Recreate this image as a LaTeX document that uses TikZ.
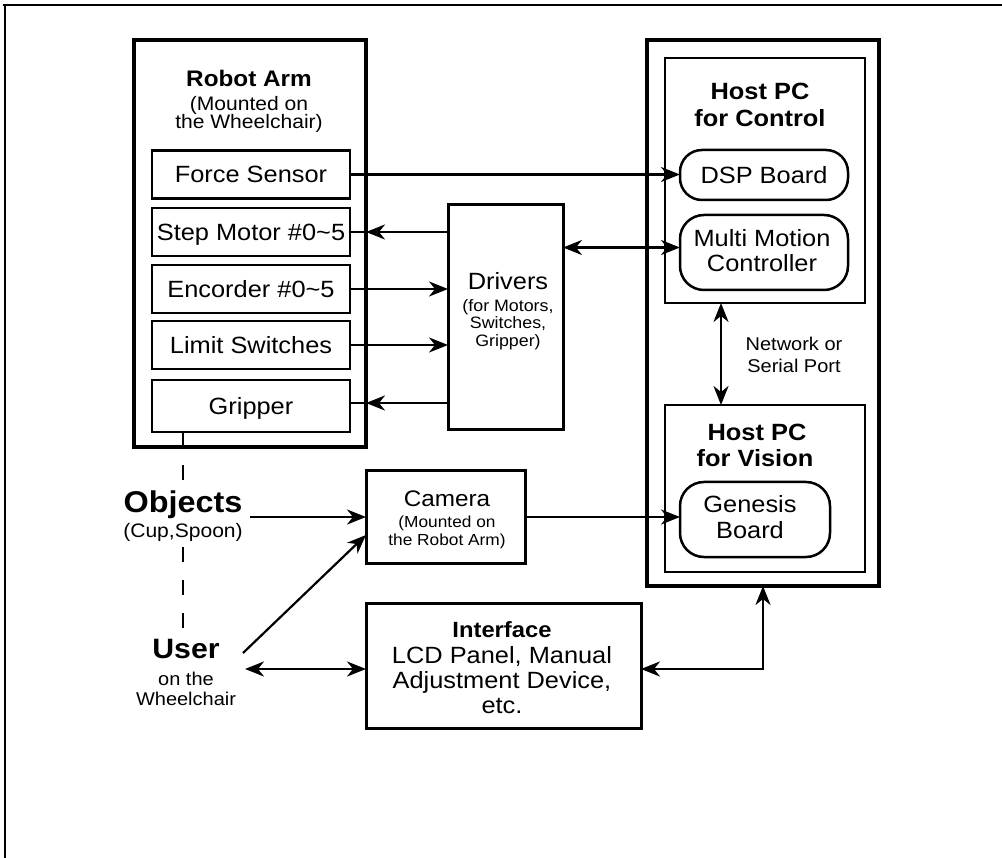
\documentclass[tikz,border=0pt]{standalone}
\usepackage{fontspec}
\setmainfont{Liberation Sans}[FakeStretch=1.08]
\usetikzlibrary{arrows.meta}
\begin{document}
\begin{tikzpicture}[x=1pt,y=-1pt,
  every node/.style={inner sep=0pt, outer sep=0pt},
  obox/.style={draw, line width=3.4pt, rectangle},
  ibox/.style={draw, line width=2.6pt, rectangle},
  sbox/.style={draw, line width=2.5pt, rectangle, minimum width=198pt, minimum height=48pt,
               text height=17pt, text depth=0pt, font=\fontsize{23.5}{26}\selectfont},
  rbox/.style={draw, line width=2.5pt, rectangle, rounded corners=24pt},
  conn/.style={line width=2.2pt},
  arr/.style={conn, -{Stealth[length=19pt,width=15pt,inset=6pt]}},
  darr/.style={conn, {Stealth[length=19pt,width=15pt,inset=6pt]}-{Stealth[length=19pt,width=15pt,inset=6pt]}},
  dashline/.style={line width=2.2pt, dash pattern=on 15pt off 18pt},
  lbl/.style={anchor=base},
  ftxt/.style={lbl, font=\fontsize{23.5}{26}\selectfont},
  fbold/.style={lbl, font=\fontsize{23.5}{26}\selectfont\bfseries},
  fsub/.style={lbl, font=\fontsize{19.5}{21}\selectfont},
  fsmall/.style={lbl, font=\fontsize{16.5}{18}\selectfont}
]
\useasboundingbox (0,0) rectangle (1002,858);
\fill[white] (0,0) rectangle (1002,858);
% outer frame (top and left only)
\draw[line width=2.6pt] (3,5) -- (1002,5);
\draw[line width=2.6pt] (5,5) -- (5,858);

% ---------------- Robot arm ----------------
\node[obox, minimum width=232pt, minimum height=407pt] (arm) at (250,243.5) {};
\node[lbl, font=\fontsize{22.5}{25}\selectfont\bfseries] (armt1) at (249,87) {Robot Arm};
\node[fsub] (armt2) at (249,111) {(Mounted on};
\node[fsub] (armt3) at (249,129) {the Wheelchair)};
\node[sbox] (force) at (251,174.5) {Force Sensor};
\node[sbox] (step)  at (251,232) {Step Motor \#0\textasciitilde5};
\node[sbox] (enc)   at (251,289) {Encorder \#0\textasciitilde5};
\node[sbox] (limit) at (251,345) {Limit Switches};
\node[sbox, minimum height=52pt] (grip) at (251,406) {Gripper};

% ---------------- Drivers ----------------
\node[obox, line width=3pt, minimum width=115pt, minimum height=225pt] (drivers) at (505.5,317.5) {};
\node[ftxt] (drv1) at (508,290) {Drivers};
\node[fsmall] (drv2) at (508,312) {(for Motors,};
\node[fsmall] (drv3) at (508,329) {Switches,};
\node[fsmall] (drv4) at (508,347) {Gripper)};

% ---------------- Host PCs ----------------
\node[obox, minimum width=232pt, minimum height=546pt] (pcs) at (763,313) {};
\node[ibox, minimum width=200pt, minimum height=245pt] (control) at (765,180.5) {};
\node[fbold] (ctl1) at (760,100) {Host PC};
\node[fbold] (ctl2) at (760,127) {for Control};
\node[rbox, rounded corners=22pt, minimum width=168pt, minimum height=50pt,
      text height=17pt, text depth=0pt, font=\fontsize{23.5}{26}\selectfont] (dsp) at (764,175) {DSP Board};
\node[rbox, minimum width=168pt, minimum height=75pt] (mmc) at (764,252.5) {};
\node[ftxt] (mmc1) at (762,247) {Multi Motion};
\node[ftxt] (mmc2) at (762,272) {Controller};

\node[ibox, minimum width=200pt, minimum height=167pt] (vision) at (765,488.5) {};
\node[fbold] (vis1) at (757,441) {Host PC};
\node[fbold] (vis2) at (755,467) {for Vision};
\node[rbox, minimum width=150pt, minimum height=75pt] (genesis) at (755,519.5) {};
\node[ftxt] (gen1) at (750,513) {Genesis};
\node[ftxt] (gen2) at (750,539) {Board};

\node[lbl, font=\fontsize{18.5}{20}\selectfont] (net1) at (794,351) {Network or};
\node[lbl, font=\fontsize{18.5}{20}\selectfont] (net2) at (794,373) {Serial Port};

% ---------------- Camera ----------------
\node[obox, line width=3pt, minimum width=159pt, minimum height=93pt] (camera) at (445.5,517) {};
\node[lbl, font=\fontsize{22.5}{25}\selectfont] (cam1) at (447,507) {Camera};
\node[lbl, font=\fontsize{16}{18}\selectfont] (cam2) at (447,527) {(Mounted on};
\node[lbl, font=\fontsize{16}{18}\selectfont] (cam3) at (447,545) {the Robot Arm)};

% ---------------- Interface ----------------
\node[obox, line width=3pt, minimum width=275pt, minimum height=125pt] (interface) at (503.5,665.5) {};
\node[lbl, font=\fontsize{22}{25}\selectfont\bfseries] (if1) at (502,637) {Interface};
\node[ftxt] (if2) at (502,663) {LCD Panel, Manual};
\node[ftxt] (if3) at (502,688) {Adjustment Device,};
\node[ftxt] (if4) at (502,713) {etc.};

% ---------------- Objects / User ----------------
\node[lbl, font=\fontsize{30}{32}\selectfont\bfseries] (objects) at (183,512) {Objects};
\node[lbl, font=\fontsize{19.5}{21}\selectfont] (objsub) at (183,537) {(Cup,Spoon)};
\node[lbl, font=\fontsize{28}{30}\selectfont\bfseries] (user) at (186,658) {User};
\node[lbl, font=\fontsize{18.5}{20}\selectfont] (user2) at (186,685) {on the};
\node[lbl, font=\fontsize{18.5}{20}\selectfont] (user3) at (186,705) {Wheelchair};

\coordinate (objR) at (250,517);
\coordinate (userD) at (243,653);
\coordinate (userR) at (245,669);

% ---------------- connectors ----------------
\draw[arr] (force.east) -- (force.east -| dsp.west);
\draw[arr] (step.east -| drivers.west) -- (step.east -| arm.east);
\draw[conn] (step.east -| arm.east) -- (step.east);
\draw[arr] (enc.east) -- (enc.east -| drivers.west);
\draw[arr] (limit.east) -- (limit.east -| drivers.west);
\draw[arr] ([yshift=3pt]grip.east -| drivers.west) -- ([yshift=3pt]grip.east -| arm.east);
\draw[conn] ([yshift=3pt]grip.east -| arm.east) -- ([yshift=3pt]grip.east);
\draw[darr] ([yshift=5pt]mmc.west -| drivers.east) -- ([yshift=5pt]mmc.west);
\draw[darr] (control.south -| 721,0) -- (vision.north -| 721,0);
\draw[arr] (objR) -- (objR -| camera.west);
\draw[arr] (camera.east) -- (camera.east -| genesis.west);
\draw[arr] (userD) -- ([yshift=-18pt]camera.west);
\draw[darr] (userR) -- (userR -| interface.west);
\draw[darr] (userR -| interface.east) -| (pcs.south);

% dashed link: gripper - objects - user
\draw[line width=2.2pt] (grip.south -| objects) -- (arm.south -| objects);
\draw[line width=2.2pt] (183,465) -- (183,480);
\draw[dashline] (183,547) -- (183,630);
\end{tikzpicture}
\end{document}
